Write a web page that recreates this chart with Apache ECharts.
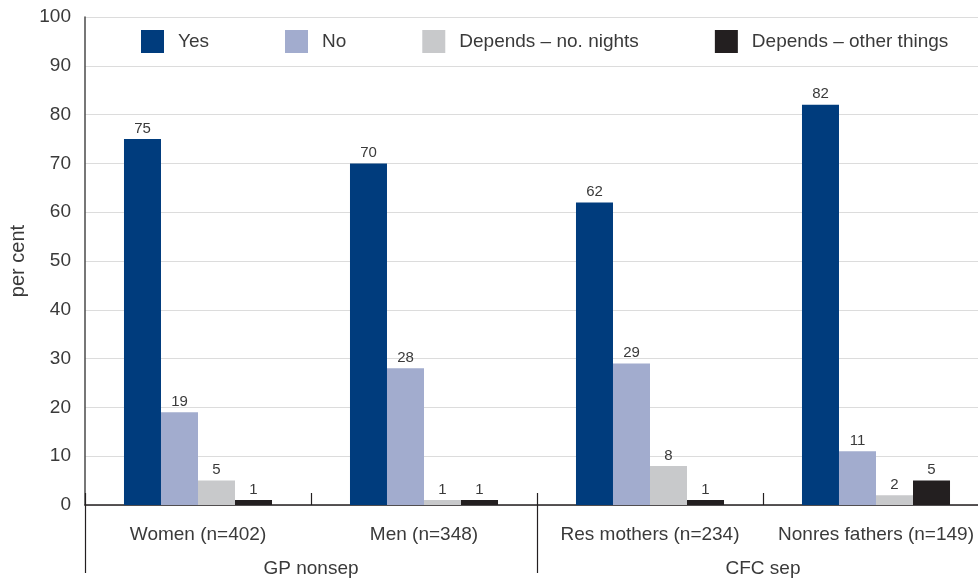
<!DOCTYPE html>
<html>
<head>
<meta charset="utf-8">
<script src="https://cdn.jsdelivr.net/npm/echarts@6/dist/echarts.min.js"></script>
<style>
  html, body { margin: 0; padding: 0; background: #fff; }
  #chart { width: 978px; height: 578px; }
</style>
</head>
<body>
<div id="chart"></div>
<script>
// Groups and sub-groups along the category axis
const categories = ['Women (n=402)', 'Men (n=348)', 'Res mothers (n=234)', 'Nonres fathers (n=149)'];
const groups = ['GP nonsep', 'CFC sep'];

// Per cent answering each option
const seriesNames = ['Yes', 'No', 'Depends \u2013 no. nights', 'Depends \u2013 other things'];
const yesValues = [75, 70, 62, 82];
const noValues = [19, 28, 29, 11];
const nightsValues = [5, 1, 8, 2];
const otherValues = [1, 1, 1, 5];

const yTicks = [0, 10, 20, 30, 40, 50, 60, 70, 80, 90, 100];

const colors = ['#003c7d', '#a2acce', '#c8c9cb', '#231f20'];
const textColor = '#3a3a3a';
const font = 'Liberation Sans';

const chart = echarts.init(document.getElementById('chart'), null, { renderer: 'canvas' });

const valueSets = [yesValues, noValues, nightsValues, otherValues];
const series = valueSets.map((vals, i) => ({
  name: seriesNames[i],
  type: 'bar',
  data: vals,
  barGap: '0%',
  barCategoryGap: '34.5%',
  itemStyle: { color: colors[i] },
  label: {
    show: true,
    position: 'top',
    distance: 3,
    color: textColor,
    fontFamily: font,
    fontSize: 15
  }
}));

chart.setOption({
  animation: false,
  textStyle: { fontFamily: font },
  legend: {
    left: 136,
    top: 25,
    itemWidth: 23,
    itemHeight: 23,
    itemGap: 76,
    icon: 'rect',
    data: seriesNames,
    textStyle: {
      color: textColor,
      fontFamily: font,
      fontSize: 19,
      padding: [0, 0, 0, 9]
    }
  },
  // the plot runs a little past the right edge of the canvas
  grid: { left: 85, top: 17, right: -11, bottom: 73, containLabel: false, outerBoundsMode: 'none' },
  xAxis: [
    {
      type: 'category',
      data: categories,
      position: 'bottom',
      axisLine: { lineStyle: { color: '#231f20', width: 1.5 } },
      axisTick: { show: true, inside: true, interval: 0, length: 12, lineStyle: { color: '#231f20', width: 1.2 } },
      axisLabel: { interval: 0, color: textColor, fontFamily: font, fontSize: 19, margin: 20 },
      splitLine: { show: false }
    },
    {
      type: 'category',
      data: groups,
      position: 'bottom',
      gridIndex: 0,
      axisLine: { show: false },
      axisTick: { show: true, inside: false, interval: 0, length: 68, lineStyle: { color: '#231f20', width: 1.2 } },
      axisLabel: { interval: 0, color: textColor, fontFamily: font, fontSize: 19, margin: 54 },
      splitLine: { show: false }
    }
  ],
  yAxis: {
    type: 'value',
    min: yTicks[0],
    max: yTicks[yTicks.length - 1],
    interval: 10,
    name: 'per cent',
    nameLocation: 'middle',
    nameGap: 57,
    nameTextStyle: { color: textColor, fontFamily: font, fontSize: 20 },
    axisLine: { show: true, lineStyle: { color: '#4a4a4a', width: 1.5 } },
    axisTick: { show: false },
    axisLabel: { color: textColor, fontFamily: font, fontSize: 19, margin: 14 },
    splitLine: { lineStyle: { color: '#dcdcdc', width: 1.2 } }
  },
  series: series
});
</script>
</body>
</html>
